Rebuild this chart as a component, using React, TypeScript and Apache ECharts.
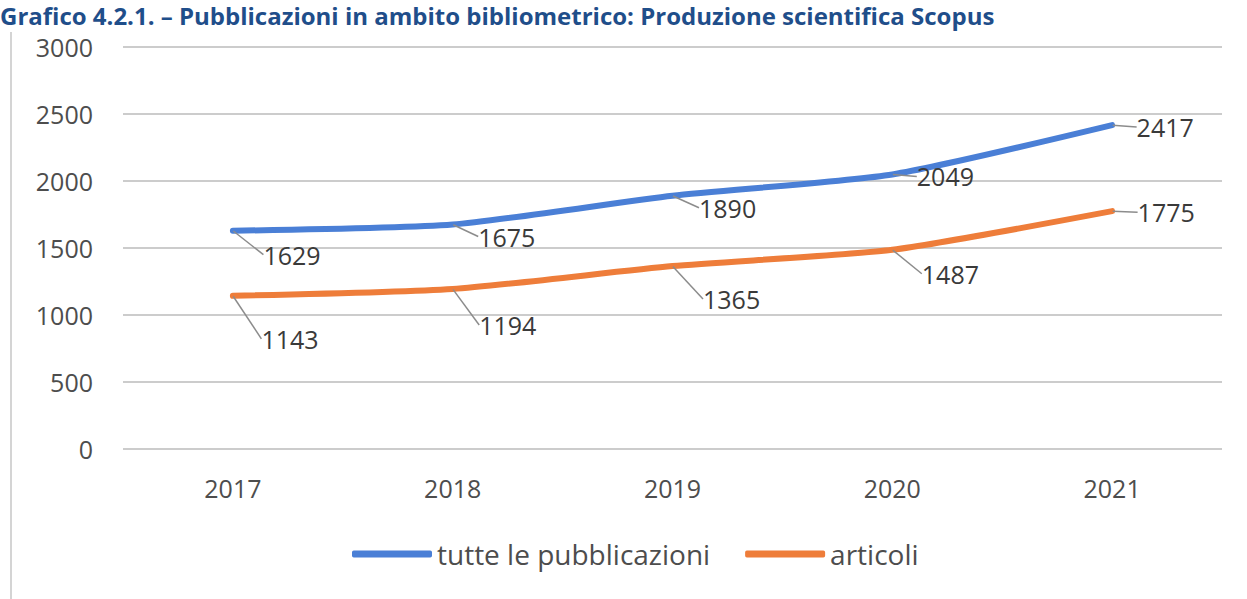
import React, { useEffect, useRef } from "react";
import * as echarts from "echarts";

const years = ["2017", "2018", "2019", "2020", "2021"];
const tutte = [1629, 1675, 1890, 2049, 2417];
const articoli = [1143, 1194, 1365, 1487, 1775];
const yTicks = { min: 0, max: 3000, interval: 500 };

const tutteOffsets = [
  [30, 24],
  [25, 12],
  [26, 12],
  [24, 2],
  [24, 2],
];
const articoliOffsets = [
  [28, 43],
  [26, 36],
  [30, 33],
  [29, 24],
  [25, 1],
];

export default function App() {
  const ref = useRef<HTMLDivElement>(null);
  useEffect(() => {
    if (!ref.current) return;
    const chart = echarts.init(ref.current, undefined, { renderer: "svg" });
    const font = "'Open Sans', sans-serif";
    const labelCommon = {
      show: true,
      position: "right",
      distance: 0,
      color: "#3a3a3a",
      fontSize: 25,
      fontFamily: font,
    };
    chart.setOption({
      animation: false,
      graphic: [
        {
          type: "text",
          left: 0,
          top: 3,
          style: {
            text: "Grafico 4.2.1. – Pubblicazioni in ambito bibliometrico: Produzione scientifica Scopus",
            fill: "#1f4e8a",
            font: "bold 24px 'Open Sans', sans-serif",
          },
        },
        {
          type: "line",
          shape: { x1: 11, y1: 32, x2: 11, y2: 599 },
          style: { stroke: "#d4d4d4", lineWidth: 2 },
        },
      ],
      grid: { left: 123, right: 25, top: 47, bottom: 150 },
      legend: {
        bottom: 26,
        left: 347,
        itemWidth: 80,
        itemHeight: 7,
        itemGap: 35,
        icon: "roundRect",
        textStyle: { color: "#4d4d4d", fontSize: 28, fontFamily: font },
        data: ["tutte le pubblicazioni", "articoli"],
      },
      xAxis: {
        type: "category",
        data: years,
        boundaryGap: true,
        axisLine: { show: false },
        axisTick: { show: false },
        axisLabel: { color: "#4d4d4d", fontSize: 25, fontFamily: font, margin: 26 },
      },
      yAxis: {
        type: "value",
        min: yTicks.min,
        max: yTicks.max,
        interval: yTicks.interval,
        axisLine: { show: false },
        axisTick: { show: false },
        axisLabel: {
          color: "#4d4d4d",
          fontSize: 25,
          fontFamily: font,
          margin: 30,
          formatter: (v: number) => String(v),
        },
        splitLine: { lineStyle: { color: "#cccccc", width: 2 } },
      },
      series: [
        {
          name: "tutte le pubblicazioni",
          type: "line",
          data: tutte,
          smooth: 0.2,
          symbol: "circle",
          symbolSize: 1,
          showSymbol: true,
          itemStyle: { color: "#4a7fd6" },
          lineStyle: { color: "#4a7fd6", width: 6, cap: "round" },
          label: labelCommon,
          labelLine: { show: true, lineStyle: { color: "#8c8c8c", width: 1.5 } },
          labelLayout: (p: any) => ({ dx: tutteOffsets[p.dataIndex][0], dy: tutteOffsets[p.dataIndex][1] }),
        },
        {
          name: "articoli",
          type: "line",
          data: articoli,
          smooth: 0.2,
          symbol: "circle",
          symbolSize: 1,
          showSymbol: true,
          itemStyle: { color: "#ee7d3a" },
          lineStyle: { color: "#ee7d3a", width: 6, cap: "round" },
          label: labelCommon,
          labelLine: { show: true, lineStyle: { color: "#8c8c8c", width: 1.5 } },
          labelLayout: (p: any) => ({ dx: articoliOffsets[p.dataIndex][0], dy: articoliOffsets[p.dataIndex][1] }),
        },
      ],
    });
    return () => chart.dispose();
  }, []);
  return <div ref={ref} style={{ width: 1247, height: 599, position: "absolute", left: 0, top: 0 }} />;
}
